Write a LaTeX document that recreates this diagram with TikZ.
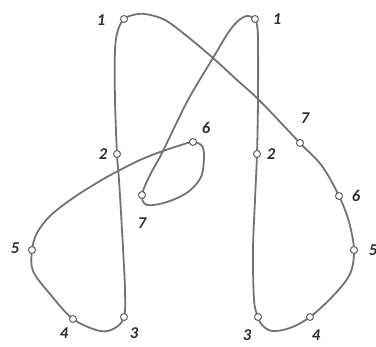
\documentclass[tikz,border=0pt]{standalone}
\usepackage{fontspec}
\setmainfont{Carlito}
\begin{document}
\begin{tikzpicture}[x=1pt,y=-1pt,
  curve/.style={draw=black!55,line width=1.8pt,line join=round},
  pt/.style={circle,draw=black!62,fill=white,line width=1pt,inner sep=0pt,minimum size=7pt},
  lab/.style={text=black!82,font=\fontsize{16.5}{16.5}\selectfont\bfseries\itshape,inner sep=0pt}]
\useasboundingbox (0,0) rectangle (376,347);
\draw[curve] plot[smooth cycle,tension=0.55] coordinates {
 (124,19) (133,15) (145,14) (165,20) (188,37) (213,58) (237,80) (260,101)
 (300,143) (322,166) (339,196) (349,222) (354,250) (350,274) (333,296)
 (310,317) (290,328) (272,331) (262,325) (258,317) (254,300) (253,250)
 (255,200) (257,154) (258,100) (258,40) (257,25) (255,19) (247,16)
 (238,21) (228,33) (213,58) (188,100) (162,153) (150,175) (142,195)
 (147,205) (167,202) (188,192) (201,177) (204,157) (202,146) (193,142)
 (178,146) (160,152) (140,160) (120,170) (100,181) (73,198) (50,216)
 (37,233) (32,250) (33,271) (50,294) (73,319) (100,331) (115,328)
 (124,317) (125,290) (122,230) (119,180) (117,154) (115,100) (115,50)
 (118,30)};
\node[pt] (l1) at (124,19) {};
\node[pt] (l2) at (117,154) {};
\node[pt] (l3) at (124,317) {};
\node[pt] (l4) at (73,319) {};
\node[pt] (l5) at (32,250) {};
\node[pt] (l6) at (193,142) {};
\node[pt] (l7) at (142,195) {};
\node[pt] (r1) at (255,19) {};
\node[pt] (r2) at (257,154) {};
\node[pt] (r3) at (258,317) {};
\node[pt] (r4) at (310,317) {};
\node[pt] (r5) at (354,250) {};
\node[pt] (r6) at (339,196) {};
\node[pt] (r7) at (300,143) {};
\node[lab] (tl1) at (101,20) {1};
\node[lab] (tl2) at (103,154) {2};
\node[lab] (tl3) at (134,333) {3};
\node[lab] (tl4) at (64,333) {4};
\node[lab] (tl5) at (15,248) {5};
\node[lab] (tl6) at (206,128) {6};
\node[lab] (tl7) at (142,223) {7};
\node[lab] (tr1) at (277,19) {1};
\node[lab] (tr2) at (271,154) {2};
\node[lab] (tr3) at (247,335) {3};
\node[lab] (tr4) at (316,335) {4};
\node[lab] (tr5) at (373,250) {5};
\node[lab] (tr6) at (356,196) {6};
\node[lab] (tr7) at (305,118) {7};
\end{tikzpicture}
\end{document}
